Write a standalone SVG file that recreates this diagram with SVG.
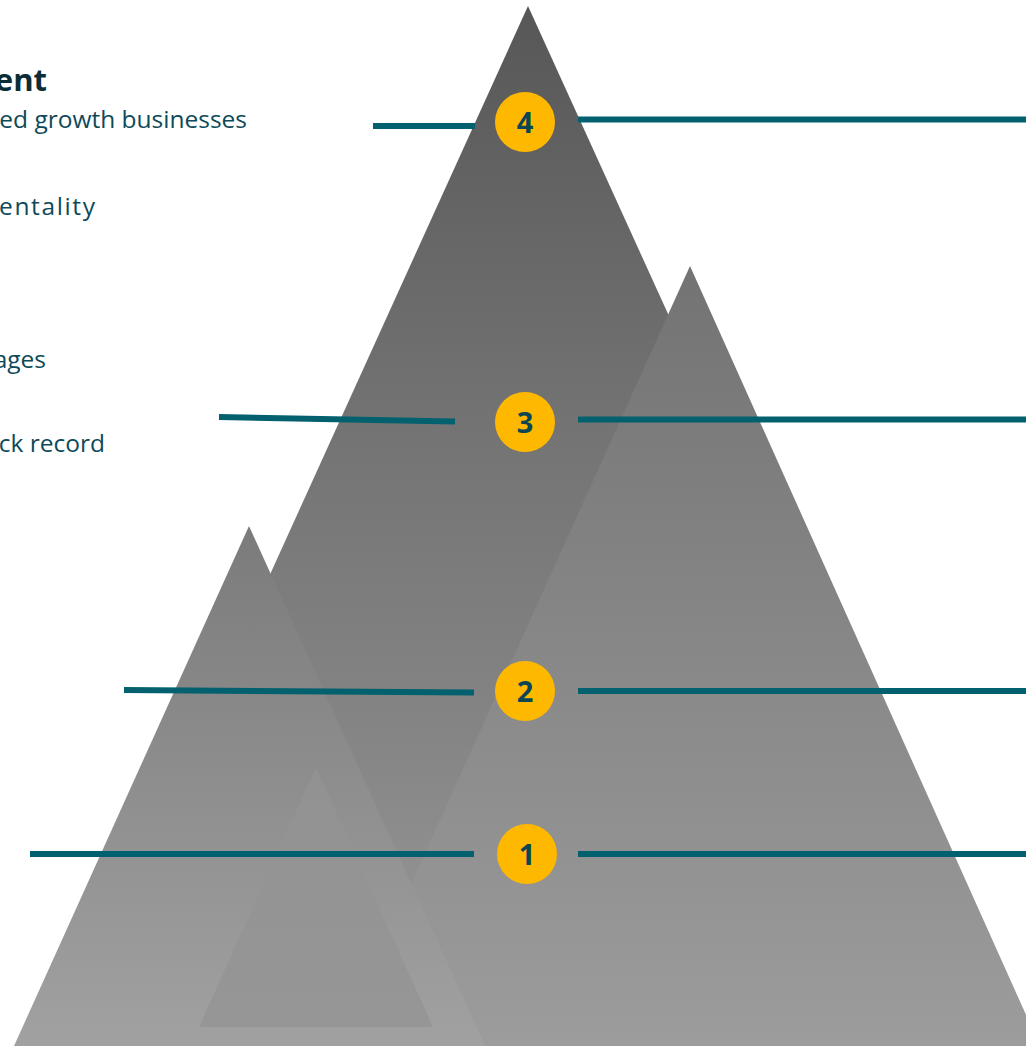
<svg xmlns="http://www.w3.org/2000/svg" width="1026" height="1046" viewBox="0 0 1026 1046">
  <style>
    .body { font-family: "Open Sans", "Noto Sans", "DejaVu Sans", sans-serif; font-size: 24.5px; fill: #0d4a59; }
    .head { font-family: "Open Sans", "Noto Sans", "DejaVu Sans", sans-serif; font-size: 31px; font-weight: 700; fill: #0b2d37; }
    .badge circle { fill: #FFB800; }
    .badge text { font-family: "Open Sans", "Noto Sans", "DejaVu Sans", sans-serif; font-size: 29px; font-weight: 700; fill: #0b4655; text-anchor: middle; }
    .conn line { stroke: #02606F; stroke-width: 6; }
  </style>
  <defs>
    <linearGradient id="gBig" gradientUnits="userSpaceOnUse" x1="0" y1="6" x2="0" y2="1046">
      <stop offset="0" stop-color="#575757"/>
      <stop offset="0.4" stop-color="#737373"/>
      <stop offset="0.72" stop-color="#868686"/>
      <stop offset="1" stop-color="#9d9d9d"/>
    </linearGradient>
    <linearGradient id="gMed" gradientUnits="userSpaceOnUse" x1="0" y1="266" x2="0" y2="1046">
      <stop offset="0" stop-color="#737373"/>
      <stop offset="1" stop-color="#9c9c9c"/>
    </linearGradient>
    <linearGradient id="gSmall" gradientUnits="userSpaceOnUse" x1="0" y1="526" x2="0" y2="1046">
      <stop offset="0" stop-color="#7b7b7b"/>
      <stop offset="1" stop-color="#a1a1a1"/>
    </linearGradient>
    <linearGradient id="gInner" gradientUnits="userSpaceOnUse" x1="0" y1="768" x2="0" y2="1027">
      <stop offset="0" stop-color="#929292"/>
      <stop offset="1" stop-color="#969696"/>
    </linearGradient>
  </defs>

  <rect width="1026" height="1046" fill="#ffffff"/>

  <g id="mountains">
    <polygon id="peak-big" points="528,6 56,1046 1001,1046" fill="url(#gBig)"/>
    <polygon id="peak-medium" points="690,266 338,1046 1040,1046" fill="url(#gMed)"/>
    <polygon id="peak-small" points="249,526 14,1046 485,1046" fill="url(#gSmall)"/>
    <polygon id="peak-inner" points="316,768 199,1027 433,1027" fill="url(#gInner)"/>
  </g>

  <g id="texts">
    <text class="head" x="47" y="91" text-anchor="end">ent</text>
    <text class="body" x="247" y="128" text-anchor="end">ed growth businesses</text>
    <text class="body" x="-1" y="215" textLength="96" lengthAdjust="spacing">entality</text>
    <text class="body" x="46" y="368" text-anchor="end">ages</text>
    <text class="body" x="105" y="452" text-anchor="end">ck record</text>
  </g>

  <g id="connectors" class="conn">
    <line x1="373" y1="126" x2="475" y2="126"/>
    <line x1="578" y1="119.5" x2="1026" y2="119.5"/>
    <line x1="219" y1="417" x2="455" y2="421.5"/>
    <line x1="578" y1="419.5" x2="1026" y2="419.5"/>
    <line x1="124" y1="690" x2="474" y2="692.5"/>
    <line x1="578" y1="691" x2="1026" y2="691"/>
    <line x1="30" y1="854" x2="474" y2="854"/>
    <line x1="578" y1="854" x2="1026" y2="854"/>
  </g>

  <g id="badge-4" class="badge">
    <circle cx="525" cy="122" r="30"/>
    <text x="525" y="132.5">4</text>
  </g>
  <g id="badge-3" class="badge">
    <circle cx="525" cy="422" r="30"/>
    <text x="525" y="432.5">3</text>
  </g>
  <g id="badge-2" class="badge">
    <circle cx="525" cy="691" r="30"/>
    <text x="525" y="701.5">2</text>
  </g>
  <g id="badge-1" class="badge">
    <circle cx="527" cy="854" r="30"/>
    <text x="527" y="864.5">1</text>
  </g>
</svg>
